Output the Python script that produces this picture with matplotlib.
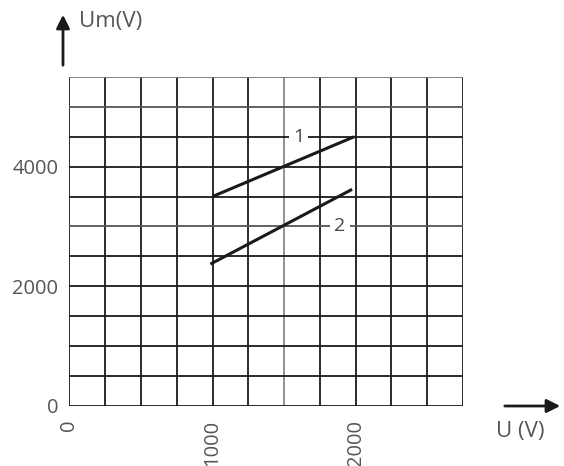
import matplotlib.pyplot as plt
import numpy as np

# data
u_1 = [1000, 1990]
um_1 = [3500, 4500]
u_2 = [985, 1975]
um_2 = [2370, 3620]
curve_labels = ['1', '2']
label_pos = [(1600, 4500), (1890, 3000)]
x_ticks = [0, 1000, 2000]
y_ticks = [0, 2000, 4000]

plt.rcParams['font.family'] = ['Open Sans', 'DejaVu Sans']

fig = plt.figure(figsize=(5.64, 4.66), dpi=100)
ax = fig.add_axes([0.123, 0.129, 0.698, 0.706])
ax.set_xlim(0, 2750)
ax.set_ylim(0, 5500)

# grid by hand, every 250 V across and 500 V up
for x in np.arange(0, 2751, 250):
    c = '#8a8a8a' if x == 1500 else '#1a1a1a'
    ax.axvline(x, color=c, lw=1.3, zorder=1)
for y in np.arange(0, 5501, 500):
    if y == 5500:
        c = '#777777'
    elif y in (3000, 5000):
        c = '#555555'
    else:
        c = '#1a1a1a'
    ax.axhline(y, color=c, lw=1.3, zorder=1)

ax.plot(u_1, um_1, color='#1a1a1a', lw=2.2, solid_capstyle='butt', zorder=3)
ax.plot(u_2, um_2, color='#1a1a1a', lw=2.2, solid_capstyle='butt', zorder=3)

for txt, (x, y) in zip(curve_labels, label_pos):
    ax.text(x, y, txt, ha='center', va='center', fontsize=14, color='#444444',
            bbox=dict(facecolor='white', edgecolor='none', pad=3.0), zorder=4)

for s in ax.spines.values():
    s.set_visible(False)
ax.set_xticks(x_ticks)
ax.set_yticks(y_ticks)
ax.set_xticklabels([str(v) for v in x_ticks], rotation=90, va='top')
ax.tick_params(length=0, labelsize=14.5, labelcolor='#555555', pad=10)
ax.tick_params(axis='y', pad=8)

# axis arrows and names
fig.patches.append(plt.matplotlib.patches.FancyArrowPatch(
    (63, 466 - 68), (63, 466 - 12), transform=None, arrowstyle='-|>',
    mutation_scale=20, color='#1a1a1a', lw=2))
fig.patches.append(plt.matplotlib.patches.FancyArrowPatch(
    (502, 466 - 406), (563, 466 - 406), transform=None, arrowstyle='-|>',
    mutation_scale=20, color='#1a1a1a', lw=2))
fig.text(79 / 564, 1 - 22 / 466, 'Um(V)', fontsize=16, color='#555555', va='center')
fig.text(496 / 564, 1 - 432 / 466, 'U (V)', fontsize=16, color='#555555', va='center')

fig.savefig('out.png', dpi=100)
